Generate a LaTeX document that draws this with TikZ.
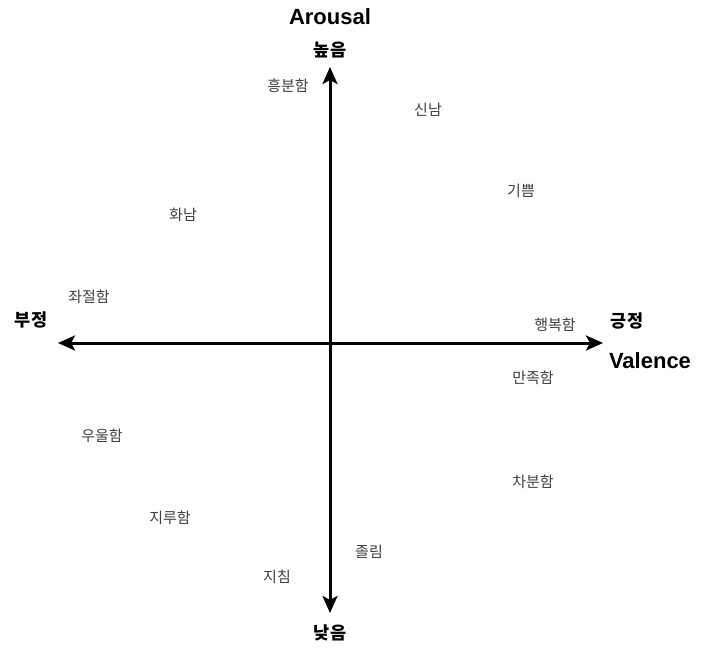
\documentclass[tikz,border=0pt]{standalone}
\usepackage{fontspec}
\setmainfont{Liberation Sans}
\newfontfamily\kr{Noto Sans CJK KR}
\usetikzlibrary{arrows.meta}
\begin{document}
\begin{tikzpicture}[x=1pt,y=-1pt,
  axis/.style={line width=3pt,-{Stealth[length=17pt,width=15pt,inset=4pt]}},
  emo/.style={font=\kr\fontsize{15}{17}\selectfont,text=black!75,inner sep=0pt},
  pole/.style={font=\kr\bfseries\fontsize{17.5}{20}\selectfont,inner sep=0pt},
  title/.style={font=\bfseries\fontsize{22}{26}\selectfont,inner sep=0pt}]
\useasboundingbox[fill=white] (0,0) rectangle (713,648);
\coordinate (c) at (330,343);
\coordinate (left) at (58,343);
\coordinate (right) at (603,343);
\coordinate (top) at (330,67);
\coordinate (bottom) at (330,613);
\draw[axis] (c) -- (left);
\draw[axis] (c) -- (right);
\draw[axis] (c) -- (top);
\draw[axis] (c) -- (bottom);
\node[title] (arousal) at (330,17) {Arousal};
\node[title] (valence) at (650,361) {Valence};
\node[pole] (high) at (330,50) {높음};
\node[pole] (low) at (330,633) {낮음};
\node[pole] (pos) at (627,321) {긍정};
\node[pole] (neg) at (31,320) {부정};
\node[emo] (e1) at (288,86) {흥분함};
\node[emo] (e2) at (428,110) {신남};
\node[emo] (e3) at (521,191) {기쁨};
\node[emo] (e4) at (183,215) {화남};
\node[emo] (e5) at (89,297) {좌절함};
\node[emo] (e6) at (555,325) {행복함};
\node[emo] (e7) at (533,378) {만족함};
\node[emo] (e8) at (102,436) {우울함};
\node[emo] (e9) at (533,482) {차분함};
\node[emo] (e10) at (170,518) {지루함};
\node[emo] (e11) at (369,552) {졸림};
\node[emo] (e12) at (277,577) {지침};
\end{tikzpicture}
\end{document}
